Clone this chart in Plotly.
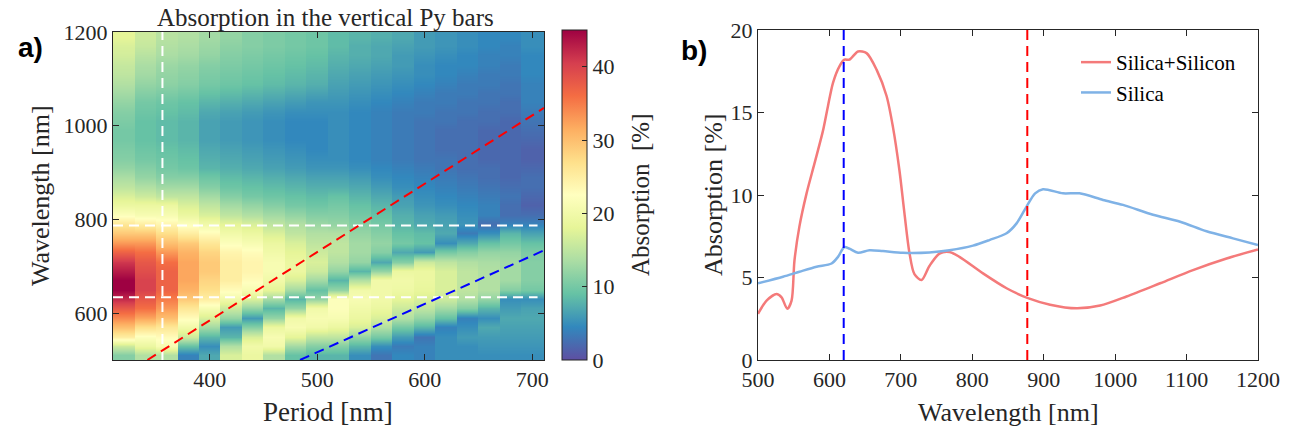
import plotly.graph_objects as go
import plotly.colors as pc

# ---------------- data: heatmap (a) ----------------
periods = [320, 340, 360, 380, 400, 420, 440, 460, 480, 500,
           520, 540, 560, 580, 600, 620, 640, 660, 680, 700]
wavelengths = [510, 530, 550, 570, 590, 610, 630, 650, 670, 690,
               710, 730, 750, 770, 790, 810, 830, 850, 870, 890,
               910, 930, 950, 970, 990, 1010, 1030, 1050, 1070, 1090,
               1110, 1130, 1150, 1170, 1190]

abs_p320 = [11, 16, 25, 30, 34, 38, 42, 45, 45, 43, 41, 37, 33, 29, 26, 22, 19, 17, 15, 13.5, 12, 11, 10.5, 10, 10, 10.5, 11, 12, 13, 14, 15, 15.5, 16.5, 17, 18]
abs_p340 = [14, 19, 22, 27, 32, 36, 38, 40, 40, 39, 38, 36, 33, 29, 25, 21, 19, 16, 14, 12, 11, 10, 9.5, 9, 9, 9, 9.5, 10, 11, 12, 13, 13.5, 14.5, 15.5, 16]
abs_p360 = [14, 21, 23, 26, 30, 33, 35, 37, 37, 37, 36, 33, 30, 27, 24, 21, 19, 15, 13, 11, 10, 9.5, 9, 8.5, 8.5, 8.5, 9, 9.5, 10.5, 11.5, 12, 12.5, 13.5, 14, 14.5]
abs_p380 = [4, 9, 16, 20, 23, 26, 29, 31, 32, 32, 32, 31, 29, 25, 22, 19, 17, 15, 13, 11, 9.5, 9, 8.5, 8, 8, 8, 8.5, 9, 10, 11, 11.5, 12, 13, 13.5, 14]
abs_p400 = [7, 5, 8, 13, 17, 21, 25, 27, 28, 29, 29, 28, 26, 23, 20, 17, 15, 13, 11, 9.5, 8, 7.5, 7, 6.5, 6.5, 6.5, 7, 8, 9, 10, 10.5, 11, 12, 12.5, 13]
abs_p420 = [17, 14, 8, 6, 12, 16, 20, 23, 25, 25, 25, 24, 22, 20, 18, 15, 13, 11, 9.5, 8.5, 7.5, 7, 6.5, 6, 6, 6, 6.5, 7.5, 8.5, 9.5, 10, 10.5, 11, 11.5, 12]
abs_p440 = [19, 20, 17, 11, 6, 12, 17, 21, 23, 24, 24, 23, 21, 19, 17, 14, 12, 10, 9, 8, 7, 6.5, 6, 5.5, 5.5, 5.5, 6, 7, 8, 9, 9.5, 10, 10.5, 11, 11]
abs_p460 = [14, 20, 21, 19, 12, 8, 13, 18, 20, 21, 21, 20, 19, 17, 15, 13, 11, 9.5, 8.5, 7.5, 6.5, 6, 5.5, 5, 5, 5, 5.5, 6.5, 7.5, 8.5, 9, 9.5, 10, 10.5, 10.5]
abs_p480 = [9, 13, 18, 21, 20, 12, 8, 13, 17, 19, 19, 18, 17, 15, 14, 12, 10, 9, 8, 7, 6, 5.5, 5, 4.5, 4.5, 4.5, 5, 6, 7, 8, 8.5, 9, 9.5, 10, 10]
abs_p500 = [8, 11, 15, 20, 21, 20, 12, 9, 13, 16, 17, 16, 15, 14, 12.5, 11, 9.5, 8.5, 7.5, 6.5, 5.5, 5, 4.5, 4.5, 4.5, 4.5, 5, 5.5, 6.5, 7.5, 8, 8.5, 9, 9.5, 9.5]
abs_p520 = [8, 11, 15, 19, 21, 22, 22, 12, 8, 12, 14, 15, 15, 14, 12, 11, 10, 9, 7.5, 6.5, 5.5, 5, 5, 5, 5, 5, 5, 5.5, 6, 6.5, 7, 7.5, 8, 8.5, 8.5]
abs_p540 = [5, 8, 12, 17, 19, 20, 21, 20, 14, 8, 12, 13, 13, 12, 11, 10, 9, 8, 7, 6, 5, 4.5, 4.5, 4.5, 4.5, 4.5, 4.5, 5, 5.5, 6, 6.5, 7, 7.5, 7.5, 8]
abs_p560 = [3, 5, 10, 14, 17, 19, 20, 20, 20, 12, 7, 11, 12, 11, 10, 9, 8, 7, 6, 5, 4.5, 4, 4, 4, 4, 4, 4, 4.5, 5, 5.5, 6, 6.5, 7, 7, 7.5]
abs_p580 = [4.5, 3.5, 6, 10, 14, 16, 18, 19.5, 20, 19, 11, 7, 10, 9, 8, 7.5, 6.5, 6, 5, 4.5, 4, 3.5, 3.5, 3.5, 3.5, 3.5, 3.5, 4, 4.5, 5, 5.5, 6, 6, 6.5, 7]
abs_p600 = [4, 4, 3, 8, 12, 15, 17, 18.5, 19, 19, 16, 6, 9, 8.5, 7, 6.5, 5.5, 5, 4.5, 4, 3.5, 3, 3, 3, 3, 3, 3.5, 3.5, 4, 4.5, 5, 5, 5.5, 6, 6]
abs_p620 = [5, 5, 5, 4, 9, 13, 16, 17, 17, 17, 15, 10, 5, 7, 6.5, 6, 5, 4.5, 4, 3.5, 3, 3, 2.5, 2.5, 2.5, 3, 3, 3.5, 3.5, 4, 4.5, 4.5, 5, 5.5, 5.5]
abs_p640 = [5, 5, 6, 5, 4, 11, 14, 15, 15, 15, 14, 11, 7, 3.5, 5.5, 5, 4.5, 4, 3.5, 3, 2.5, 2.5, 2.5, 2.5, 2.5, 2.5, 3, 3, 3.5, 3.5, 4, 4.5, 4.5, 5, 5]
abs_p660 = [5, 5.5, 6, 7, 5, 8, 12, 14, 14, 14, 13.5, 12, 9, 5, 2.5, 4, 4, 3.5, 3, 2.5, 2.5, 2, 2, 2, 2, 2.5, 2.5, 3, 3, 3.5, 3.5, 4, 4, 4.5, 4.5]
abs_p680 = [5, 5.5, 6, 6.5, 7, 6, 5, 11, 13, 13, 13, 12, 10, 8, 4, 2.5, 2.5, 3, 2.5, 2, 2, 2, 2, 2, 2, 2, 2.5, 2.5, 3, 3, 3.5, 3.5, 4, 4, 4.5]
abs_p700 = [5, 5.5, 6, 6.5, 7, 6.5, 5, 10, 11, 11, 11, 10.5, 9, 6.5, 4, 2.5, 1.5, 2, 2.5, 2.5, 2, 1.5, 1.5, 2, 2.5, 3, 3.5, 4, 4, 4, 4.5, 4.5, 4.5, 5, 5]

# guide lines on the map
guide_period = 356
guide_wl_upper = 787
guide_wl_lower = 634
guide_h_period_span = [310, 705]
red_line_period = [342, 711]
red_line_wl = [500, 1038]
blue_line_period = [484, 711]
blue_line_wl = [500, 734]

# ---------------- data: spectra (b) ----------------
wl_silicon = [500, 512, 526, 533, 541, 547, 551, 558, 568, 579, 591, 598, 605, 614, 621, 628,
              640, 652, 666, 680, 689, 698, 705, 712, 719, 729, 740, 754, 768, 782, 815,
              848, 878, 909, 946, 979, 1016, 1063, 1109, 1156, 1200]
abs_silicon = [2.8, 3.6, 4.0, 3.8, 3.1, 3.6, 6.0, 8.1, 10.1, 11.9, 13.9, 15.4, 16.8, 17.8, 18.2, 18.2,
               18.7, 18.6, 17.6, 16.0, 14.1, 11.5, 8.9, 6.5, 5.2, 4.85, 5.7, 6.45, 6.55, 6.25, 5.25,
               4.35, 3.75, 3.35, 3.13, 3.3, 3.85, 4.65, 5.45, 6.15, 6.7]
wl_silica = [500, 535, 558, 582, 603, 612, 621, 628, 640, 656, 675, 703, 740, 768, 801, 824, 848,
             862, 876, 888, 899, 927, 950, 983, 1011, 1053, 1091, 1128, 1165, 1200]
abs_silica = [4.65, 5.05, 5.35, 5.65, 5.85, 6.25, 6.85, 6.75, 6.5, 6.65, 6.6, 6.5, 6.52, 6.65, 6.93,
              7.27, 7.68, 8.28, 9.3, 10.1, 10.35, 10.1, 10.1, 9.7, 9.4, 8.8, 8.38, 7.8, 7.37, 6.97]
marker_wl_blue = 620
marker_wl_red = 877

# ---------------- build ----------------
columns = [abs_p320, abs_p340, abs_p360, abs_p380, abs_p400, abs_p420, abs_p440, abs_p460,
           abs_p480, abs_p500, abs_p520, abs_p540, abs_p560, abs_p580, abs_p600, abs_p620,
           abs_p640, abs_p660, abs_p680, abs_p700]

# each period column is drawn as a flat vertical strip (two x samples at its edges),
# smoothed only along wavelength by the renderer
half_w = 9.99
x_strips = []
for p in periods:
    x_strips += [p - half_w, p + half_w]
z = []
for i in range(len(wavelengths)):
    row = []
    for col in columns:
        row += [col[i], col[i]]
    z.append(row)

W, H = 1296, 433
def px(x):
    return x / W
def py(y):
    return 1 - y / H

SERIF = "Liberation Serif"
TXT = "#262626"
spectral_r = pc.diverging.Spectral[::-1]

fig = go.Figure()
fig.add_trace(go.Heatmap(
    x=x_strips, y=wavelengths, z=z, zmin=0, zmax=45, zsmooth="best",
    colorscale=spectral_r, xaxis="x", yaxis="y", hoverinfo="skip",
    colorbar=dict(
        x=px(562), xanchor="left", y=(py(360) + py(30)) / 2, yanchor="middle",
        len=330 / H, lenmode="fraction", thickness=25, thicknessmode="pixels",
        outlinewidth=1, outlinecolor=TXT, tickvals=[0, 10, 20, 30, 40],
        ticks="inside", ticklen=5, tickcolor=TXT,
        tickfont=dict(family=SERIF, size=22, color=TXT), xpad=0, ypad=0,
    ),
))

dash = "10px,6px"
fig.add_trace(go.Scatter(x=[guide_period, guide_period], y=[500, 1200], mode="lines",
                         line=dict(color="white", width=2, dash=dash), showlegend=False,
                         xaxis="x", yaxis="y"))
for wl in (guide_wl_upper, guide_wl_lower):
    fig.add_trace(go.Scatter(x=guide_h_period_span, y=[wl, wl], mode="lines",
                             line=dict(color="white", width=2, dash=dash), showlegend=False,
                             xaxis="x", yaxis="y"))
fig.add_trace(go.Scatter(x=red_line_period, y=red_line_wl, mode="lines",
                         line=dict(color="#ff0000", width=2, dash=dash), showlegend=False,
                         xaxis="x", yaxis="y"))
fig.add_trace(go.Scatter(x=blue_line_period, y=blue_line_wl, mode="lines",
                         line=dict(color="#0000ff", width=2, dash=dash), showlegend=False,
                         xaxis="x", yaxis="y"))

fig.add_trace(go.Scatter(x=wl_silicon, y=abs_silicon, mode="lines", name="Silica+Silicon",
                         line=dict(color="#f47a7a", width=2.5, shape="spline", smoothing=0.8),
                         xaxis="x2", yaxis="y2"))
fig.add_trace(go.Scatter(x=wl_silica, y=abs_silica, mode="lines", name="Silica",
                         line=dict(color="#7fb2e6", width=2.5, shape="spline", smoothing=0.8),
                         xaxis="x2", yaxis="y2"))
fig.add_trace(go.Scatter(x=[marker_wl_blue, marker_wl_blue], y=[0, 20], mode="lines",
                         line=dict(color="#0000ff", width=2, dash=dash), showlegend=False,
                         xaxis="x2", yaxis="y2"))
fig.add_trace(go.Scatter(x=[marker_wl_red, marker_wl_red], y=[0, 20], mode="lines",
                         line=dict(color="#ff0000", width=2, dash=dash), showlegend=False,
                         xaxis="x2", yaxis="y2"))

axis_common = dict(showline=True, linecolor=TXT, linewidth=1, mirror="ticks", ticks="inside",
                   ticklen=6, tickcolor=TXT, showgrid=False, zeroline=False, automargin=False,
                   tickfont=dict(family=SERIF, size=22, color=TXT))

fig.update_layout(
    width=W, height=H, margin=dict(l=0, r=0, t=0, b=0, autoexpand=False),
    paper_bgcolor="white", plot_bgcolor="white",
    font=dict(family=SERIF, color=TXT),
    xaxis=dict(domain=[px(113), px(544)], range=[310, 711], tickvals=[400, 500, 600, 700],
               anchor="y", **axis_common),
    yaxis=dict(domain=[py(360), py(32)], range=[500, 1200], tickvals=[600, 800, 1000, 1200],
               anchor="x", **axis_common),
    xaxis2=dict(domain=[px(758), px(1258)], range=[500, 1200], dtick=100, tick0=500,
                anchor="y2", **axis_common),
    yaxis2=dict(domain=[py(360), py(30)], range=[0, 20], dtick=5, tick0=0,
                anchor="x2", **axis_common),
    legend=dict(x=px(1076), xanchor="left", y=py(42), yanchor="top",
                bgcolor="rgba(0,0,0,0)", font=dict(family=SERIF, size=21, color="black"),
                tracegroupgap=0),
)

ann = [
    dict(text="Absorption in the vertical Py bars", x=px(325), y=py(18), size=25, angle=0, fam=SERIF),
    dict(text="Period [nm]", x=px(328), y=py(412), size=27, angle=0, fam=SERIF),
    dict(text="Wavelength [nm]", x=px(40), y=py(196), size=26, angle=-90, fam=SERIF),
    dict(text="Absorption  [%]", x=px(640), y=py(195), size=25, angle=-90, fam=SERIF),
    dict(text="Wavelength [nm]", x=px(1008), y=py(412), size=26, angle=0, fam=SERIF),
    dict(text="Absorption [%]", x=px(713), y=py(195), size=26, angle=-90, fam=SERIF),
    dict(text="<b>a)</b>", x=px(30), y=py(48), size=28, angle=0, fam="Liberation Sans"),
    dict(text="<b>b)</b>", x=px(694), y=py(50), size=28, angle=0, fam="Liberation Sans"),
]
for a in ann:
    fig.add_annotation(text=a["text"], x=a["x"], y=a["y"], xref="paper", yref="paper",
                       xanchor="center", yanchor="middle", showarrow=False, textangle=a["angle"],
                       font=dict(family=a["fam"], size=a["size"],
                                 color="black" if "<b>" in a["text"] else TXT))

fig.write_html("out.html")
